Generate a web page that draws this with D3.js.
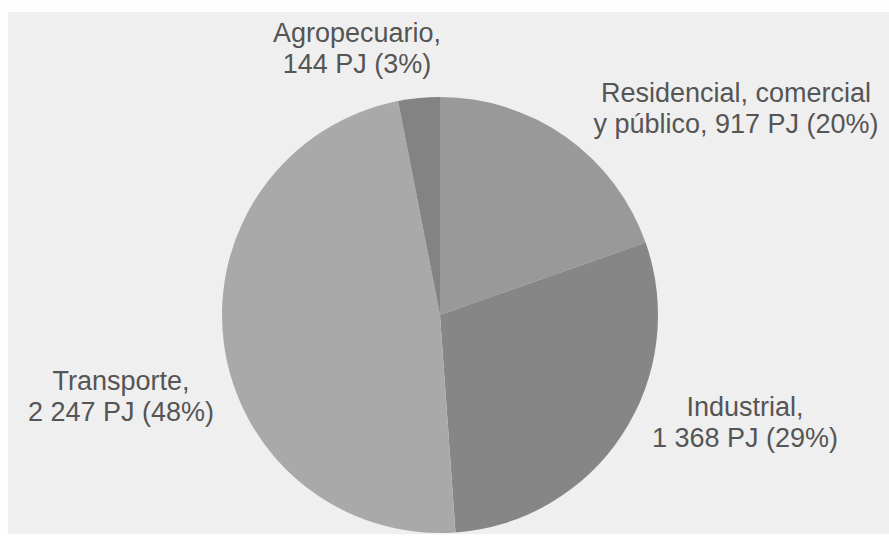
<!DOCTYPE html>
<html>
<head>
<meta charset="utf-8">
<script src="https://cdn.jsdelivr.net/npm/d3@7"></script>
<style>
  html, body { margin: 0; padding: 0; background: #fdfdfd; }
  svg { display: block; }
  text { font-family: "Liberation Sans", Arial, sans-serif; }
</style>
</head>
<body>
<svg id="chart" width="889" height="536"></svg>
<script>
// Energy consumption by sector (PJ), drawn clockwise from 12 o'clock
const sectors = ["Residencial, comercial y público", "Industrial", "Transporte", "Agropecuario"];
const energyPJ = [917, 1368, 2247, 144];
const sharePct = [20, 29, 48, 3];
const labelLine1 = ["Residencial, comercial", "Industrial,", "Transporte,", "Agropecuario,"];
const labelLine2 = ["y público, 917 PJ (20%)", "1 368 PJ (29%)", "2 247 PJ (48%)", "144 PJ (3%)"];
const sliceColors = ["#999999", "#868686", "#a9a9a9", "#838383"];

const width = 889, height = 536;
const cx = 440, cy = 315, radius = 218;

const svg = d3.select("#chart");

// paper background
svg.append("rect")
  .attr("x", 8).attr("y", 12)
  .attr("width", width - 8).attr("height", 522)
  .attr("fill", "#efefef");

const data = sectors.map((s, i) => ({
  sector: s, value: energyPJ[i], pct: sharePct[i],
  l1: labelLine1[i], l2: labelLine2[i], color: sliceColors[i]
}));

const pie = d3.pie().sort(null).value(d => d.value).startAngle(0).endAngle(2 * Math.PI);
const arc = d3.arc().innerRadius(0).outerRadius(radius);
const arcs = pie(data);

const g = svg.append("g").attr("transform", `translate(${cx},${cy})`);
g.selectAll("path.slice")
  .data(arcs)
  .join("path")
  .attr("class", "slice")
  .attr("d", arc)
  .attr("fill", d => d.data.color);

// two-line labels set outside the pie, next to their slices
const anchors = [
  { x: 736, y: 102 },
  { x: 745, y: 416 },
  { x: 121, y: 390 },
  { x: 357, y: 42 }
];
g.selectAll("text.lbl")
  .data(arcs)
  .join("text")
  .attr("class", "lbl")
  .attr("text-anchor", "middle")
  .attr("font-size", 27)
  .attr("fill", "#555555")
  .each(function(d, i) {
    const t = d3.select(this);
    const ax = anchors[i].x - cx, ay = anchors[i].y - cy;
    t.append("tspan").attr("x", ax).attr("y", ay).text(d.data.l1);
    t.append("tspan").attr("x", ax).attr("y", ay + 31).text(d.data.l2);
  });
</script>
</body>
</html>
